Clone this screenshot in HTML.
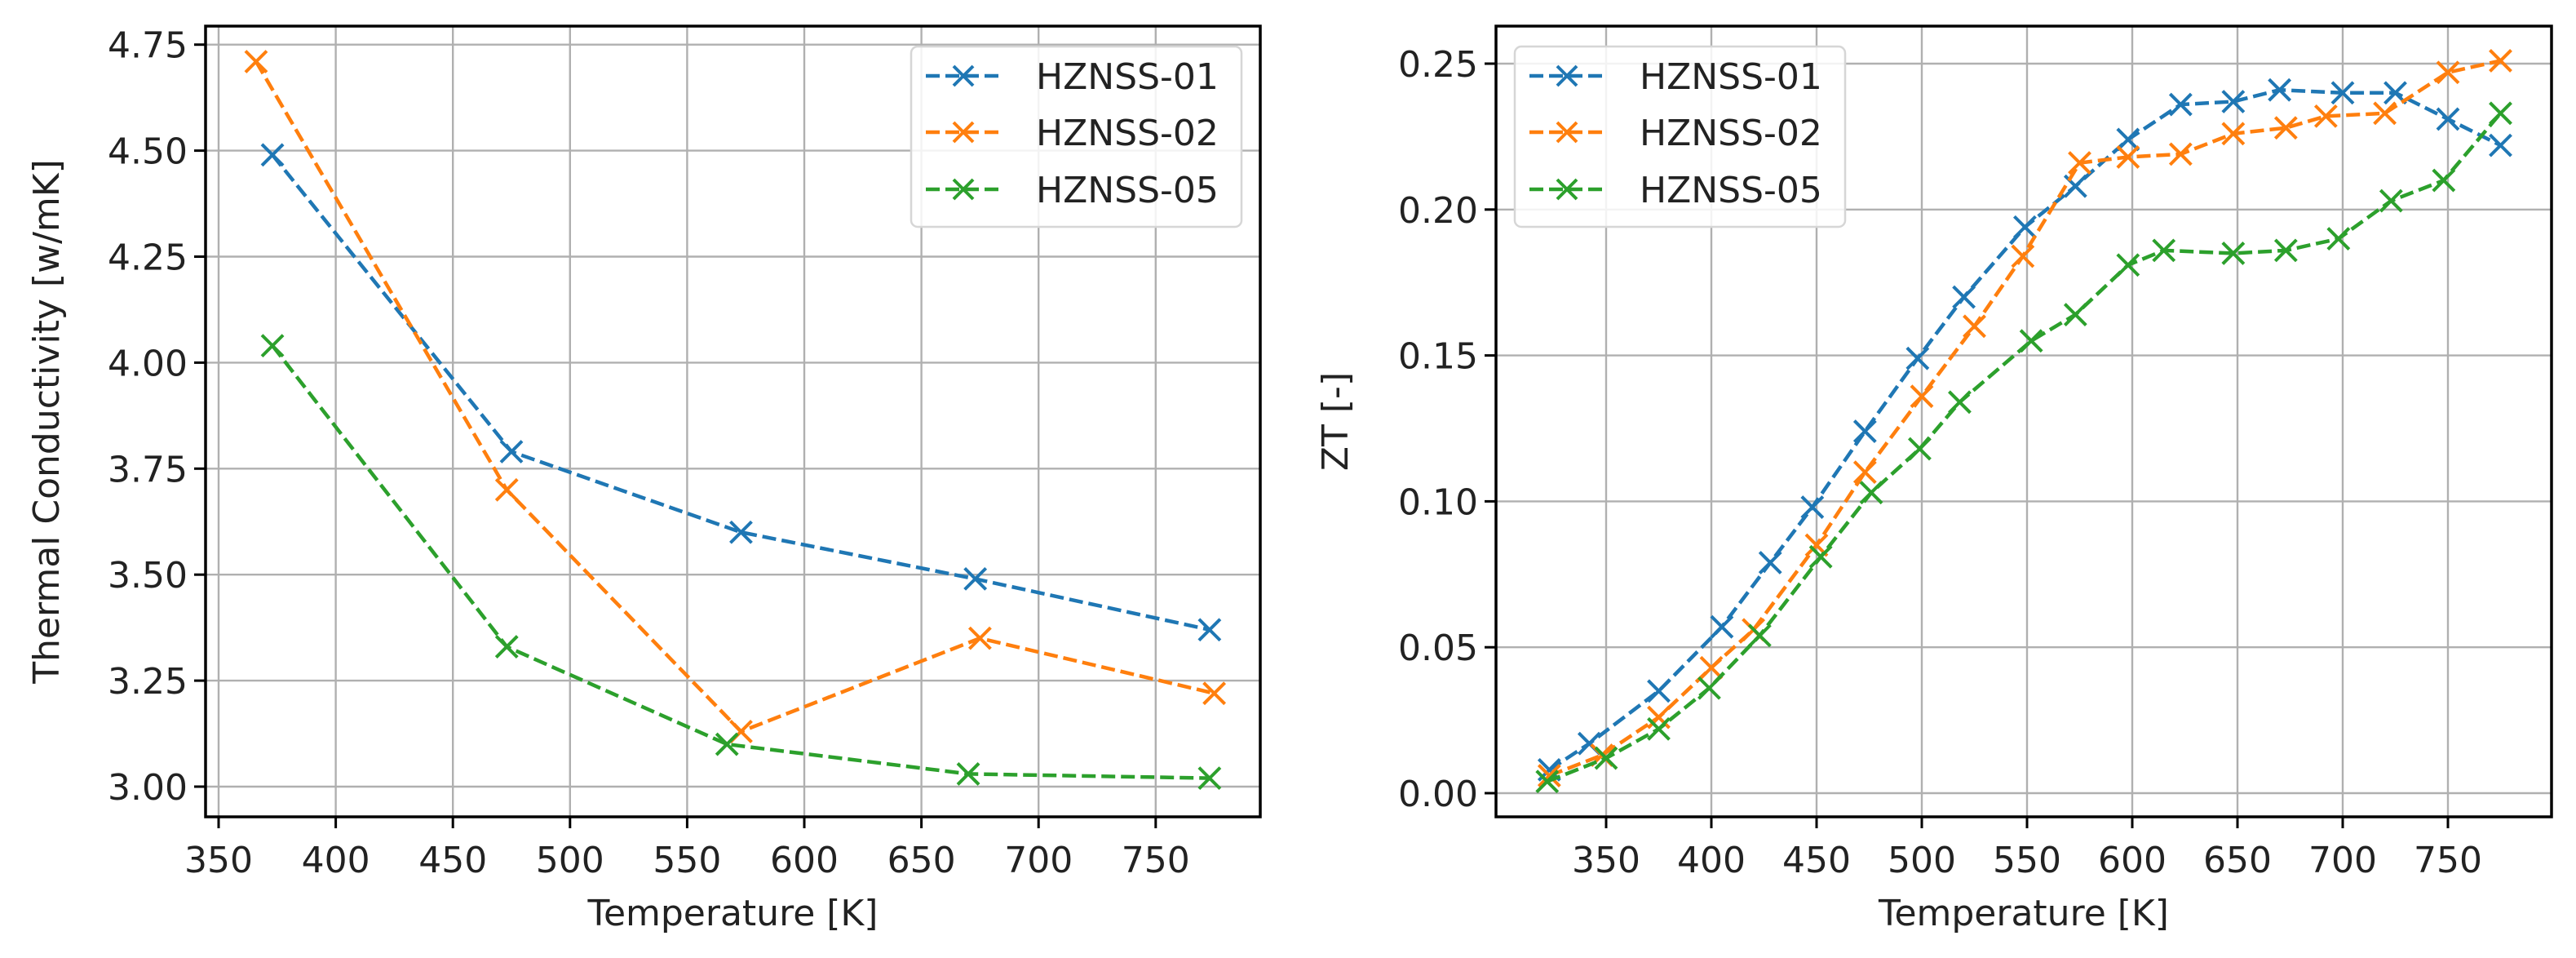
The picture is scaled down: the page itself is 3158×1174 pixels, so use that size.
<!DOCTYPE html>
<html><head><meta charset="utf-8"><style>
html,body{margin:0;padding:0;background:#fff;}
svg{display:block;font-family:"DejaVu Sans","Liberation Sans",sans-serif;}
</style></head><body>
<svg id="fig" width="3158" height="1174" viewBox="0 0 3158 1174" xmlns="http://www.w3.org/2000/svg"></svg>
<script>
// ---- Left chart data (thermal conductivity) ----
const tcT01 = [373, 475, 573, 673, 773];
const tcV01 = [4.49, 3.79, 3.60, 3.49, 3.37];
const tcT02 = [366, 473, 573, 675, 775];
const tcV02 = [4.71, 3.70, 3.13, 3.35, 3.22];
const tcT05 = [373, 473, 567, 670, 773];
const tcV05 = [4.04, 3.33, 3.10, 3.03, 3.02];
const tcXTicks = [350, 400, 450, 500, 550, 600, 650, 700, 750];
const tcYTicks = [3.00, 3.25, 3.50, 3.75, 4.00, 4.25, 4.50, 4.75];
// ---- Right chart data (ZT) ----
const ztT01 = [323, 342, 375, 405, 428, 448, 473, 498, 520, 549, 573, 598, 623, 648, 670, 700, 725, 750, 775];
const ztV01 = [0.008, 0.017, 0.035, 0.057, 0.079, 0.098, 0.124, 0.149, 0.170, 0.194, 0.208, 0.224, 0.236, 0.237, 0.241, 0.240, 0.240, 0.231, 0.222];
const ztT02 = [323, 348, 375, 400, 420, 450, 473, 500, 525, 548, 575, 598, 623, 648, 673, 692, 720, 750, 775];
const ztV02 = [0.006, 0.013, 0.026, 0.043, 0.056, 0.085, 0.110, 0.136, 0.160, 0.184, 0.216, 0.218, 0.219, 0.226, 0.228, 0.232, 0.233, 0.247, 0.251];
const ztT05 = [322, 350, 375, 399, 423, 452, 476, 499, 518, 552, 573, 598, 615, 648, 673, 698, 723, 748, 775];
const ztV05 = [0.004, 0.012, 0.022, 0.036, 0.054, 0.081, 0.103, 0.118, 0.134, 0.155, 0.164, 0.181, 0.186, 0.185, 0.186, 0.190, 0.203, 0.210, 0.233];
const ztXTicks = [350, 400, 450, 500, 550, 600, 650, 700, 750];
const ztYTicks = [0.00, 0.05, 0.10, 0.15, 0.20, 0.25];
const seriesNames = ["HZNSS-01", "HZNSS-02", "HZNSS-05"];
const colors = ["#1f77b4", "#ff7f0e", "#2ca02c"];

const NS = "http://www.w3.org/2000/svg";
const svg = document.getElementById("fig");
function mk(tag, attrs, parent) {
  const e = document.createElementNS(NS, tag);
  for (const k in attrs) e.setAttribute(k, attrs[k]);
  (parent || svg).appendChild(e);
  return e;
}
const FS = 44;

function drawChart(cfg) {
  const g = mk("g", {});
  
  
  const xs = v => cfg.x0 + (v - cfg.xa) * cfg.xk;
  const ys = v => cfg.y0 - (v - cfg.ya) * cfg.yk;
  // grid + ticks
  cfg.xTicks.forEach(t => {
    const x = xs(t);
    const gl = mk("line", {x1: x, x2: x, y1: cfg.top, y2: cfg.bottom, stroke: "#b0b0b0", "stroke-width": 2.4}, g);
    
    
    mk("line", {x1: x, x2: x, y1: cfg.bottom, y2: cfg.bottom + 14, stroke: "#000", "stroke-width": 3}, g);
    const tx = mk("text", {x: x, y: cfg.bottom + 68, "font-size": FS, "text-anchor": "middle", fill: "#222"}, g);
    tx.textContent = t;
    
    
  });
  cfg.yTicks.forEach(t => {
    const y = ys(t);
    const gl = mk("line", {x1: cfg.left, x2: cfg.right, y1: y, y2: y, stroke: "#b0b0b0", "stroke-width": 2.4}, g);
    
    
    mk("line", {x1: cfg.left - 14, x2: cfg.left, y1: y, y2: y, stroke: "#000", "stroke-width": 3}, g);
    const tx = mk("text", {x: cfg.left - 22, y: y + 16, "font-size": FS, "text-anchor": "end", fill: "#222"}, g);
    tx.textContent = t.toFixed(2);
    
    
  });
  // series
  cfg.series.forEach((s, i) => {
    const sg = mk("g", {}, g);
    
    
    const pts = s.t.map((t, j) => xs(t) + "," + ys(s.v[j])).join(" ");
    const pl = mk("polyline", {points: pts, fill: "none", stroke: colors[i], "stroke-width": 4.5, "stroke-dasharray": "17,7"}, sg);
    
    
    s.t.forEach((t, j) => {
      const x = xs(t), y = ys(s.v[j]), r = 13;
      const m = mk("path", {d: `M${x-r},${y-r}L${x+r},${y+r}M${x-r},${y+r}L${x+r},${y-r}`, stroke: colors[i], "stroke-width": 4, fill: "none"}, sg);
      
      
    });
  });
  // frame
  const fr = mk("rect", {x: cfg.left, y: cfg.top, width: cfg.right - cfg.left, height: cfg.bottom - cfg.top, fill: "none", stroke: "#000", "stroke-width": 3.5}, g);
  
  
  // axis labels
  const xl = mk("text", {x: (cfg.left + cfg.right) / 2, y: 1134, "font-size": FS, "text-anchor": "middle", fill: "#222"}, g);
  xl.textContent = "Temperature [K]";
  
  
  const yl = mk("text", {x: 0, y: 0, "font-size": FS, "text-anchor": "middle", fill: "#222", transform: `translate(${cfg.ylx},${(cfg.top + cfg.bottom) / 2}) rotate(-90)`}, g);
  yl.textContent = cfg.ylabel;
  
  
  // legend
  const lg = mk("g", {}, g);
  
  
  mk("rect", {x: cfg.lx, y: 57, width: 405, height: 221, rx: 8, fill: "rgba(255,255,255,0.85)", stroke: "#d6d6d6", "stroke-width": 2.5}, lg);
  [93, 162, 232].forEach((yy, i) => {
    const e = mk("g", {}, lg);
    
    
    mk("line", {x1: cfg.lx + 18, x2: cfg.lx + 110, y1: yy, y2: yy, stroke: colors[i], "stroke-width": 4.5, "stroke-dasharray": "17,7"}, e);
    const cx = cfg.lx + 64, r = 12;
    mk("path", {d: `M${cx-r},${yy-r}L${cx+r},${yy+r}M${cx-r},${yy+r}L${cx+r},${yy-r}`, stroke: colors[i], "stroke-width": 4, fill: "none"}, e);
    const t = mk("text", {x: cfg.lx + 153, y: yy + 16, "font-size": FS, fill: "#222"}, e);
    t.textContent = seriesNames[i];
  });
}

drawChart({
  name: "thermal-conductivity-chart",
  left: 252, right: 1545, top: 32, bottom: 1001,
  x0: 268, xa: 350, xk: 143.6 / 50,
  y0: 964, ya: 3.0, yk: 129.9 / 0.25,
  xTicks: tcXTicks, yTicks: tcYTicks,
  series: [{t: tcT01, v: tcV01}, {t: tcT02, v: tcV02}, {t: tcT05, v: tcV05}],
  ylabel: "Thermal Conductivity [w/mK]", ylx: 72, lx: 1117
});
drawChart({
  name: "zt-chart",
  left: 1834, right: 3128, top: 32, bottom: 1001,
  x0: 1969, xa: 350, xk: 129 / 50,
  y0: 972, ya: 0.0, yk: 178.8 / 0.05,
  xTicks: ztXTicks, yTicks: ztYTicks,
  series: [{t: ztT01, v: ztV01}, {t: ztT02, v: ztV02}, {t: ztT05, v: ztV05}],
  ylabel: "ZT [-]", ylx: 1652, lx: 1857
});
</script>
</body></html>
